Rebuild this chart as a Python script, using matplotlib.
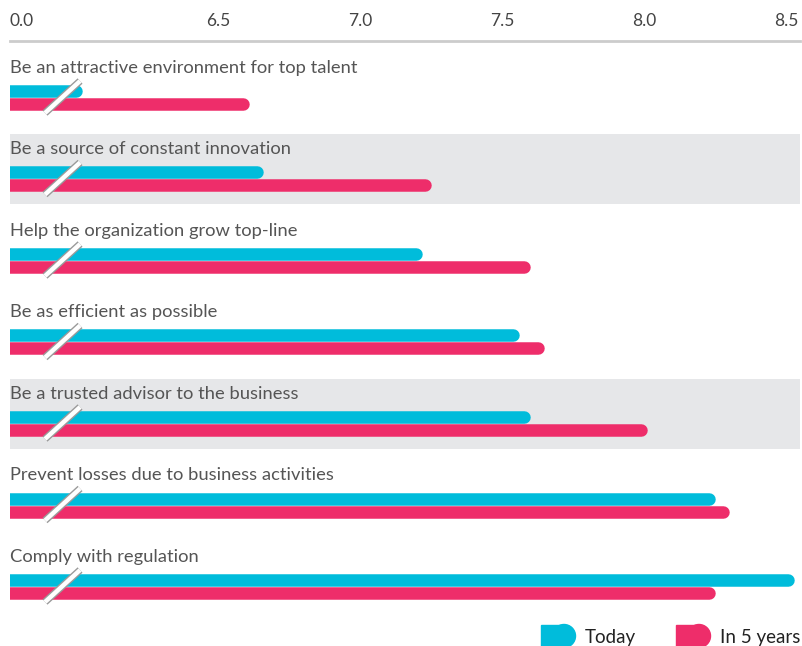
import matplotlib.pyplot as plt
from matplotlib.patches import Rectangle, Circle
from matplotlib.transforms import Affine2D

plt.rcParams['font.family'] = ['Lato', 'DejaVu Sans']

# data
goals = ["Be an attractive environment for top talent",
         "Be a source of constant innovation",
         "Help the organization grow top-line",
         "Be as efficient as possible",
         "Be a trusted advisor to the business",
         "Prevent losses due to business activities",
         "Comply with regulation"]
today = [6.02, 6.66, 7.22, 7.56, 7.60, 8.25, 8.53]
in_5_years = [6.61, 7.25, 7.60, 7.65, 8.01, 8.30, 8.25]
tick_values = [6.5, 7.0, 7.5, 8.0, 8.5]
tick_labels = ["6.5", "7.0", "7.5", "8.0", "8.5"]
shaded_rows = [1, 4]

CYAN = "#00BCDB"
PINK = "#EE2D6A"
BAND = "#E6E7E9"
TEXT = "#555555"

W, H = 803, 646
fig = plt.figure(figsize=(W / 100, H / 100), dpi=100)
pix = Affine2D().scale(1 / W, -1 / H).translate(0, 1) + fig.transFigure

# axes: x from px 10 to 800, y from px 41 to 646
ax = fig.add_axes([10 / W, 0, 790 / W, (H - 41) / H])
px_per_unit = 283.6
x0 = 6.5 - 208 / px_per_unit          # value at left edge (shown as "0.0")
x1 = 8.5 + 14 / px_per_unit
ax.set_xlim(x0, x1)
row_px = 81.5
ax.set_ylim((646 - 68) / row_px, (41 - 68) / row_px)

bar_px = 12.5
lw_pt = bar_px * 72 / 100
cap = (bar_px / 2) / px_per_unit

for i, row in enumerate(goals):
    if i in shaded_rows:
        ax.axhspan(i - 15 / row_px, i + 55 / row_px, color=BAND, lw=0, zorder=0)
    ax.text(x0, i, row, ha='left', va='center', fontsize=13.2, color=TEXT)
    for val, off, col in [(today[i], 23 / row_px, CYAN), (in_5_years[i], 36 / row_px, PINK)]:
        ax.plot([x0 - 1, val - cap], [i + off, i + off], color=col, lw=lw_pt,
                solid_capstyle='round', zorder=2)
    # break mark
    bx = [x0 + 35 / px_per_unit, x0 + 70 / px_per_unit]
    by = [i + 45 / row_px, i + 13 / row_px]
    ax.plot(bx, by, color="#9a9a9a", lw=5.2, solid_capstyle='butt', zorder=3)
    ax.plot(bx, by, color="white", lw=3.2, solid_capstyle='butt', zorder=4)

# top axis
ax.xaxis.tick_top()
ax.set_xticks([x0] + tick_values)
ax.set_xticklabels(["0.0"] + tick_labels, fontsize=12.5, color="#444444")
ax.tick_params(axis='x', length=0, pad=9)
ax.get_xticklabels()[0].set_ha('left')
ax.set_yticks([])
for s in ['left', 'right', 'bottom']:
    ax.spines[s].set_visible(False)
ax.spines['top'].set_color("#CCCCCC")
ax.spines['top'].set_linewidth(2)

# legend
for (lx, tx, label, col) in [(541, 585, "Today", CYAN), (676, 720, "In 5 years", PINK)]:
    fig.patches.append(Rectangle((lx, 625), 23, 24, color=col, transform=pix))
    fig.patches.append(Circle((lx + 23, 636), 11.5, color=col, transform=pix))
    fig.text(tx, 637, label, transform=pix, ha='left', va='center', fontsize=13.5, color="#222222")

fig.savefig("out.png", dpi=100)
